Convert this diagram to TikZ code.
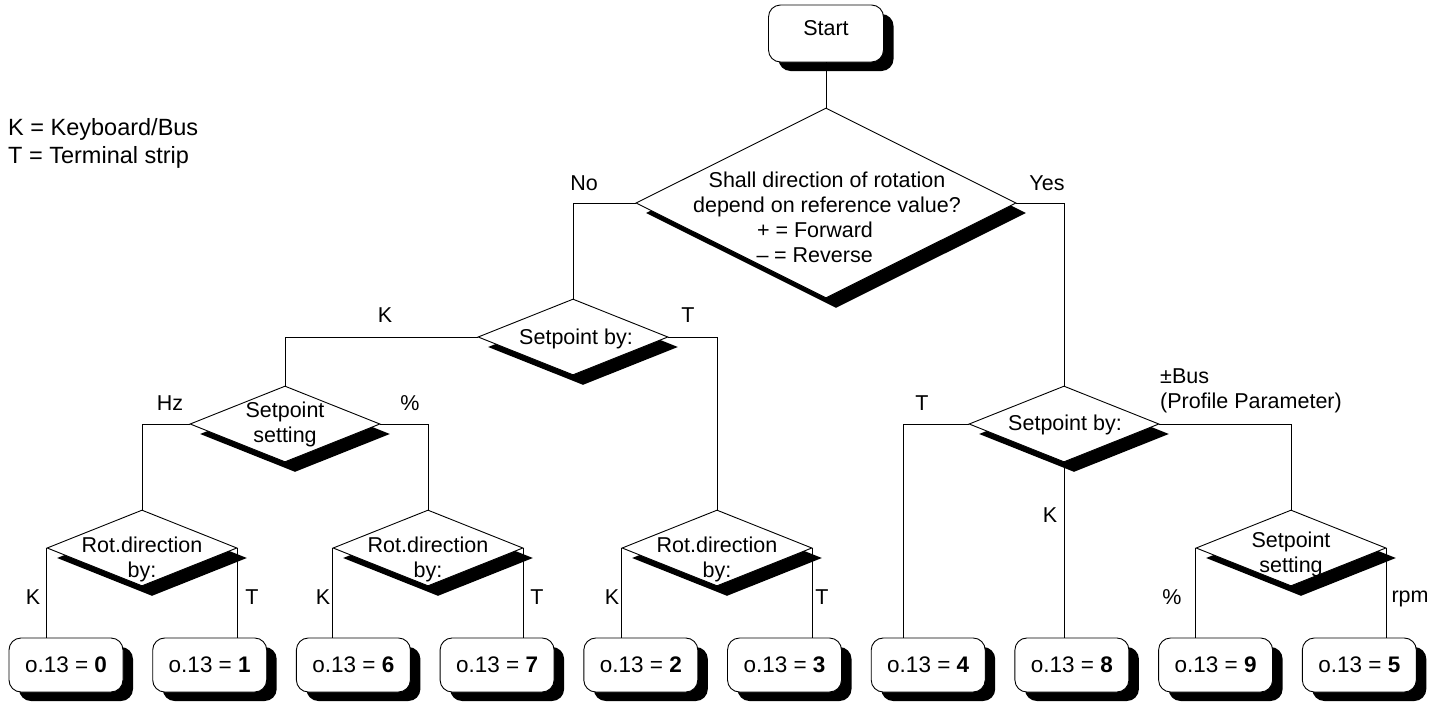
\documentclass[tikz,border=0pt]{standalone}
\usepackage{fontspec}
\setmainfont{Liberation Sans}
\usetikzlibrary{shapes.geometric,shadows}
\begin{document}
\begin{tikzpicture}[x=1pt,y=-1pt,
  every node/.style={font=\fontsize{21.5}{25}\selectfont},
  con/.style={draw=black, line width=0.9pt},
  dia/.style={diamond, draw=black, line width=0.9pt, fill=white, inner sep=0pt,
    minimum width=190pt, minimum height=76pt,
    drop shadow={shadow xshift=10pt, shadow yshift=-10pt, fill=black, opacity=1}},
  box/.style={rectangle, rounded corners=12pt, draw=black, line width=0.9pt, fill=white,
    minimum width=114pt, minimum height=54pt, inner sep=0pt,
    font=\fontsize{22.5}{25}\selectfont,
    drop shadow={shadow xshift=10pt, shadow yshift=-9pt, fill=black, opacity=1}},
  txt/.style={align=center, inner sep=0pt},
  lab/.style={inner sep=0pt},
  leg/.style={inner sep=0pt, anchor=base west, font=\fontsize{23.5}{27}\selectfont}
]
\useasboundingbox (0,0) rectangle (1444,707);

% legend
\node[leg] (leg1) at (8,135) {K = Keyboard/Bus};
\node[leg] (leg2) at (8,163) {T = Terminal strip};

% start
\node[box, minimum width=115pt, minimum height=57pt, font=\fontsize{21.5}{25}\selectfont,
  text height=15pt, text depth=12pt] (start) at (826,33.5) {Start};

% main decision
\node[dia, minimum width=380pt, minimum height=190pt] (d0) at (826,203) {};
\node[txt] (d0t) at (827,217) {Shall direction of rotation\\depend on reference value?\\\hspace*{-24pt}+ = Forward\\\hspace*{-24pt}\makebox[11pt][c]{--} = Reverse};

% second level
\node[dia] (s1) at (573,337) {};
\node[txt] (s1t) at (576,339) {Setpoint by:};
\node[dia] (s2) at (1064,424) {};
\node[txt] (s2t) at (1065,425) {Setpoint by:};

% third level
\node[dia] (ss1) at (285,424) {};
\node[txt] (ss1t) at (285,424) {Setpoint\\setting};
\node[dia] (rd1) at (142,548) {};
\node[txt] (rd1t) at (142,559) {Rot.direction\\by:};
\node[dia] (rd2) at (428,548) {};
\node[txt] (rd2t) at (428,559) {Rot.direction\\by:};
\node[dia] (rd3) at (717,548) {};
\node[txt] (rd3t) at (717,559) {Rot.direction\\by:};
\node[dia] (ss2) at (1291,548) {};
\node[txt] (ss2t) at (1291,554) {Setpoint\\setting};

% result boxes
\node[box] (b0) at (66,665) {o.13 = \textbf{0}};
\node[box] (b1) at (209.7,665) {o.13 = \textbf{1}};
\node[box] (b6) at (353.4,665) {o.13 = \textbf{6}};
\node[box] (b7) at (497.1,665) {o.13 = \textbf{7}};
\node[box] (b2) at (640.8,665) {o.13 = \textbf{2}};
\node[box] (b3) at (784.5,665) {o.13 = \textbf{3}};
\node[box] (b4) at (928.2,665) {o.13 = \textbf{4}};
\node[box] (b8) at (1071.9,665) {o.13 = \textbf{8}};
\node[box] (b9) at (1215.6,665) {o.13 = \textbf{9}};
\node[box] (b5) at (1359.3,665) {o.13 = \textbf{5}};

% connectors
\draw[con] (start.south) -- (d0.north);
\draw[con] (d0.west) -| (s1.north);
\draw[con] (d0.east) -| (s2.north);
\draw[con] (s1.west) -| (ss1.north);
\draw[con] (s1.east) -| (rd3.north);
\draw[con] (ss1.west) -| (rd1.north);
\draw[con] (ss1.east) -| (rd2.north);
\draw[con] (rd1.west) -- (rd1.west |- b0.north);
\draw[con] (rd1.east) -- (rd1.east |- b1.north);
\draw[con] (rd2.west) -- (rd2.west |- b6.north);
\draw[con] (rd2.east) -- (rd2.east |- b7.north);
\draw[con] (rd3.west) -- (rd3.west |- b2.north);
\draw[con] (rd3.east) -- (rd3.east |- b3.north);
\coordinate (tT) at (903,424);
\draw[con] (s2.west) -- (tT) -- (tT |- b4.north);
\draw[con] (s2.south) -- (s2.south |- b8.north);
\draw[con] (s2.east) -| (ss2.north);
\draw[con] (ss2.west) -- (ss2.west |- b9.north);
\draw[con] (ss2.east) -- (ss2.east |- b5.north);

% branch labels
\node[lab] (lNo) at (584,183) {No};
\node[lab] (lYes) at (1047,183) {Yes};
\node[lab] (lK1) at (385,315) {K};
\node[lab] (lT1) at (688,315) {T};
\node[lab] (lHz) at (170,403) {Hz};
\node[lab] (lPc1) at (410,403) {\%};
\node[lab] (lT2) at (922,403) {T};
\node[lab, anchor=west, align=left] (lBus) at (1160,391) {±Bus\\(Profile Parameter)};
\node[lab] (lK2) at (1050,515) {K};
\node[lab] (lK3) at (33,597) {K};
\node[lab] (lT3) at (252,597) {T};
\node[lab] (lK4) at (323,597) {K};
\node[lab] (lT4) at (537,597) {T};
\node[lab] (lK5) at (612,597) {K};
\node[lab] (lT5) at (822,597) {T};
\node[lab] (lPc2) at (1172,597) {\%};
\node[lab] (lrpm) at (1410,599) {rpm};
\end{tikzpicture}
\end{document}
